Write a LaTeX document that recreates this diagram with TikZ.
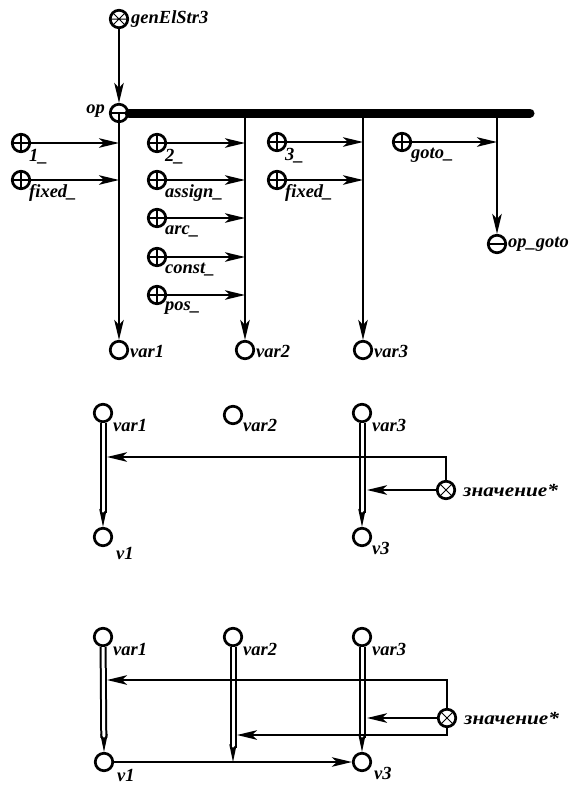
\documentclass[tikz,border=0pt]{standalone}
\usepackage{fontspec}
\setmainfont{Liberation Serif}
\usetikzlibrary{arrows.meta,calc}
\tikzset{
  x=1pt,y=-1pt,
  pnode/.style={circle,draw,line width=2.7pt,minimum size=17.5pt,inner sep=0pt,fill=white},
  plussym/.style={pnode,path picture={\draw[line width=1.5pt]
      (path picture bounding box.west) -- (path picture bounding box.east)
      (path picture bounding box.north) -- (path picture bounding box.south);}},
  minussym/.style={pnode,path picture={\draw[line width=1.5pt]
      (path picture bounding box.west) -- (path picture bounding box.east);}},
  opsym/.style={pnode,path picture={\draw[line width=1.5pt]
      (path picture bounding box.west) -- (path picture bounding box.east)
      (path picture bounding box.center) -- (path picture bounding box.south);}},
  crosssym/.style={pnode,path picture={\draw[line width=1pt]
      (path picture bounding box.north west) -- (path picture bounding box.south east)
      (path picture bounding box.north east) -- (path picture bounding box.south west);}},
  gensym/.style={pnode,path picture={\draw[line width=1pt]
      (path picture bounding box.north west) -- (path picture bounding box.south east)
      (path picture bounding box.north east) -- (path picture bounding box.south west)
      (path picture bounding box.west) -- (path picture bounding box.east);}},
  lab/.style={font=\fontsize{18.5}{18.5}\selectfont\bfseries\itshape,inner sep=0pt,anchor=west},
  arr/.style={line width=2.2pt,-{Stealth[length=20pt,width=9.5pt,inset=5pt]}},
  busline/.style={line width=9pt,line cap=round},
  dbl/.style={draw,double=white,double distance=3pt,line width=2pt}
}
\newcommand{\dtipat}[1]{\fill (#1) -- ++(-3.8,-18) -- ++(3.8,4) -- ++(3.8,-4) -- cycle;}
\begin{document}
\begin{tikzpicture}
\useasboundingbox (0,0) rectangle (570,785);
% ---------- top part ----------
\node[gensym] (gen) at (119,19) {};
\node[lab] (genl) at (131,19) {genElStr3};
\node[opsym] (op) at (119,113) {};
\node[lab,anchor=east] (opl) at (105,111) {op};
\coordinate (busend) at (530,113);
\coordinate (b2) at (245,113);
\coordinate (b3) at (363,113);
\coordinate (b4) at (497,113);
\draw[busline] (op.east) -- (busend);

\node[plussym] (i1) at (21,143) {};
\node[lab] (i1l) at (29,157) {1\_};
\node[plussym] (i2) at (21,180) {};
\node[lab] (i2l) at (29,193) {fixed\_};

\node[plussym] (j1) at (157,143) {};
\node[lab] (j1l) at (165,157) {2\_};
\node[plussym] (j2) at (157,180) {};
\node[lab] (j2l) at (165,193) {assign\_};
\node[plussym] (j3) at (157,218) {};
\node[lab] (j3l) at (165,231) {arc\_};
\node[plussym] (j4) at (157,257) {};
\node[lab] (j4l) at (165,270) {const\_};
\node[plussym] (j5) at (157,295) {};
\node[lab] (j5l) at (165,308) {pos\_};

\node[plussym] (k1) at (277,142) {};
\node[lab] (k1l) at (285,156) {3\_};
\node[plussym] (k2) at (277,180) {};
\node[lab] (k2l) at (285,193) {fixed\_};

\node[plussym] (g1) at (402,142) {};
\node[lab] (g1l) at (411,155) {goto\_};
\node[minussym] (opg) at (497,244) {};
\node[lab] (opgl) at (508,244) {op\_goto};

\node[pnode] (var1) at (119,350) {};
\node[lab] (var1l) at (130,351) {var1};
\node[pnode] (var2) at (245,350) {};
\node[lab] (var2l) at (256,351) {var2};
\node[pnode] (var3) at (363,350) {};
\node[lab] (var3l) at (374,351) {var3};

\draw[arr] (gen) -- (op);
\draw[arr] (op) -- (var1);
\draw[arr] (b2) -- (var2);
\draw[arr] (b3) -- (var3);
\draw[arr] (b4) -- (opg);
\draw[arr] (i1) -- (i1 -| op);
\draw[arr] (i2) -- (i2 -| op);
\draw[arr] (j1) -- (j1 -| b2);
\draw[arr] (j2) -- (j2 -| b2);
\draw[arr] (j3) -- (j3 -| b2);
\draw[arr] (j4) -- (j4 -| b2);
\draw[arr] (j5) -- (j5 -| b2);
\draw[arr] (k1) -- (k1 -| b3);
\draw[arr] (k2) -- (k2 -| b3);
\draw[arr] (g1) -- (g1 -| b4);

% ---------- middle part ----------
\node[pnode] (mvar1) at (103,413) {};
\node[lab] (mvar1l) at (113,425) {var1};
\node[pnode] (mvar2) at (233,415) {};
\node[lab] (mvar2l) at (243,425) {var2};
\node[pnode] (mvar3) at (362,413) {};
\node[lab] (mvar3l) at (372,425) {var3};
\node[pnode] (mv1) at (103,537) {};
\node[lab] (mv1l) at (116,553) {v1};
\node[pnode] (mv3) at (362,537) {};
\node[lab] (mv3l) at (372,548) {v3};
\node[crosssym] (mz) at (446,490) {};
\node[lab] (mzl) at (463,490) {\scalebox{1.15}[1]{значение*}};

\draw[dbl,shorten >=14pt] (mvar1) -- (mv1);
\dtipat{mv1.north}
\draw[dbl,shorten >=14pt] (mvar3) -- (mv3);
\dtipat{mv3.north}
\coordinate (m1) at (107,457);
\coordinate (m3) at (367,490);
\draw[arr] (mz) |- (m1);
\draw[arr] (mz) -- (m3);

% ---------- bottom part ----------
\node[pnode] (bvar1) at (103,637) {};
\node[lab] (bvar1l) at (113,649) {var1};
\node[pnode] (bvar2) at (233,637) {};
\node[lab] (bvar2l) at (243,649) {var2};
\node[pnode] (bvar3) at (362,637) {};
\node[lab] (bvar3l) at (372,649) {var3};
\node[pnode] (bv1) at (104,762) {};
\node[lab] (bv1l) at (117,775) {v1};
\node[pnode] (bv3) at (362,762) {};
\node[lab] (bv3l) at (374,773) {v3};
\node[crosssym] (bz) at (447,718) {};
\node[lab] (bzl) at (464,718) {\scalebox{1.15}[1]{значение*}};

\coordinate (bt) at (233,762);
\draw[dbl,shorten >=14pt] (bvar1) -- (bv1);
\dtipat{bv1.north}
\draw[dbl,shorten >=14pt] (bvar3) -- (bv3);
\dtipat{bv3.north}
\draw[dbl,shorten >=14pt] (bvar2) -- (bt);
\dtipat{bt}

\coordinate (n1) at (107,680);
\coordinate (n2) at (237,735);
\coordinate (n3) at (367,718);
\draw[arr] (bz) |- (n1);
\draw[arr] (bz) |- (n2);
\draw[arr] (bz) -- (n3);
\draw[arr] (bv1) -- (bv3);
\end{tikzpicture}
\end{document}
